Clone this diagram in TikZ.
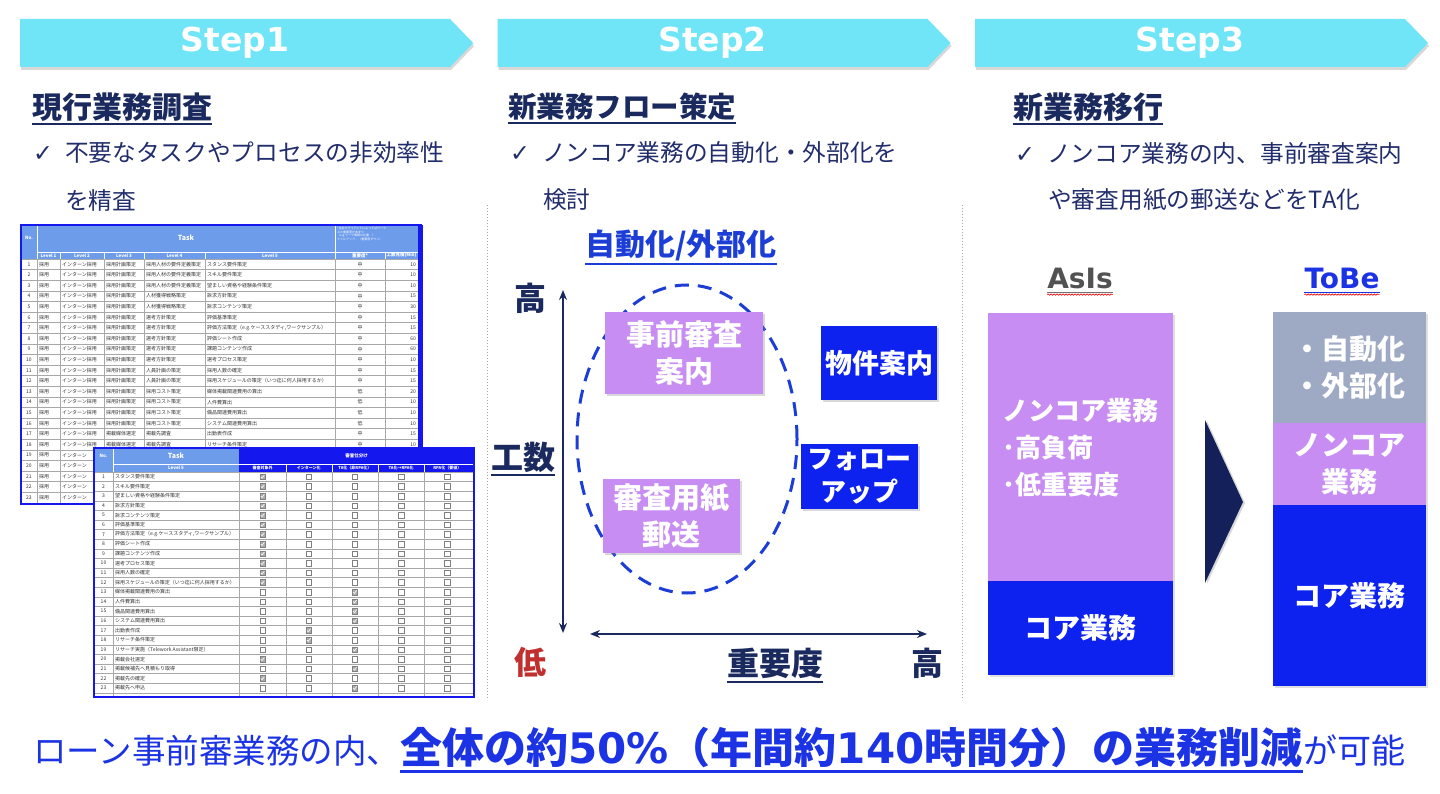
\documentclass[tikz,border=0pt]{standalone}
\usepackage{fontspec}
\setmainfont{Noto Sans CJK JP}
\newfontfamily\dejav{DejaVu Sans}
\usepackage{tikz}
\usetikzlibrary{arrows.meta,positioning,shapes.geometric,shapes.symbols,shadows,decorations.pathmorphing,calc}
\tikzset{>=Stealth}
\usepackage{xcolor}
\definecolor{bannercyan}{HTML}{70E5F8}
\definecolor{navy}{HTML}{1B2A5E}
\definecolor{checknavy}{HTML}{222E6C}
\definecolor{matrixblue}{HTML}{1C3ED6}
\definecolor{lilac}{HTML}{C78DF2}
\definecolor{coreblue}{HTML}{0D22EE}
\definecolor{greyblue}{HTML}{9EAAC4}
\definecolor{arrownavy}{HTML}{14205A}
\definecolor{lowred}{HTML}{C0302F}
\definecolor{resultblue}{HTML}{1B33E4}
\definecolor{headblue}{HTML}{6D9CEB}
\definecolor{sortblue}{HTML}{1418EE}
\definecolor{gridgrey}{HTML}{A8A8A8}

\begin{document}
\begin{tikzpicture}[x=1pt, y=-1pt,
    stepbanner/.style={signal, signal to=east, signal pointer angle=92, fill=bannercyan, minimum width=453pt, minimum height=48pt, inner sep=0pt, text=white, font=\dejav\bfseries\fontsize{33}{33}\selectfont, drop shadow={shadow xshift=1pt, shadow yshift=-3pt, opacity=.3}},
    heading/.style={anchor=west, inner sep=0pt, text=navy, font=\bfseries\fontsize{30}{30}\selectfont},
    checkline/.style={anchor=west, inner sep=0pt, text=checknavy, font=\fontsize{23.7}{23.7}\selectfont},
    tcell/.style={inner sep=0pt, font=\fontsize{5}{5}\selectfont, text=black!80},
    ttext/.style={tcell, anchor=west},
    thead/.style={inner sep=0pt, text=white, font=\bfseries\fontsize{4.5}{4.5}\selectfont},
    tgrid/.style={draw=gridgrey, line width=.4pt},
    cbox/.style={draw=gray, fill=white, minimum size=5.5pt, inner sep=0pt, line width=.4pt},
    cboxon/.style={cbox, fill=gray!65},
    axislabel/.style={inner sep=0pt, text=navy, font=\bfseries\fontsize{32}{32}\selectfont},
    axis/.style={{Stealth[length=10pt,width=8pt]}-{Stealth[length=10pt,width=8pt]}, draw=navy, line width=2.5pt},
    taskcard/.style={inner sep=0pt, align=center, text=white, font=\bfseries\fontsize{29}{37}\selectfont, drop shadow={shadow xshift=2pt, shadow yshift=-2pt, opacity=.3}},
    stackpart/.style={anchor=north west, inner sep=0pt, align=center, text=white, font=\bfseries\fontsize{28}{37}\selectfont, drop shadow={shadow xshift=2pt, shadow yshift=-2pt, opacity=.25}},
    divider/.style={draw=gray!70, line width=1pt, dotted},
]
\useasboundingbox (0,0) rectangle (1440,794);
\fill[white] (0,0) rectangle (1440,794);

% step banners
\node[stepbanner, anchor=west] (step1) at (20,43) {Step1};
\node[stepbanner, right=24pt of step1] (step2) {Step2};
\node[stepbanner, right=24pt of step2] (step3) {Step3};

% column dividers
\draw[divider] (487,205) -- (487,700);
\draw[divider] (962,205) -- (962,700);

% step 1 text
\node[heading] (head1) at (32,107) {現行業務調査};
\draw[navy, line width=2pt] ($(head1.south west)+(0,2)$) -- ($(head1.south east)+(0,2)$);
\node[checkline] (check1) at (33,153) {{\dejav ✓}\hspace{12pt}不要なタスクやプロセスの非効率性};
\node[checkline] (check1b) at (65,200) {を精査};

% step 2 text
\node[heading, font=\bfseries\fontsize{28.5}{28.5}\selectfont] (head2) at (508,107) {新業務フロー策定};
\draw[navy, line width=2pt] ($(head2.south west)+(0,2)$) -- ($(head2.south east)+(0,2)$);
\node[checkline] (check2) at (510,153) {{\dejav ✓}\hspace{12pt}ノンコア業務の自動化・外部化を};
\node[checkline] (check2b) at (543,200) {検討};

% step 3 text
\node[heading] (head3) at (1013,107) {新業務移行};
\draw[navy, line width=2pt] ($(head3.south west)+(0,2)$) -- ($(head3.south east)+(0,2)$);
\node[checkline] (check3) at (1015,153) {{\dejav ✓}\hspace{12pt}ノンコア業務の内、事前審査案内};
\node[checkline] (check3b) at (1048,200) {や審査用紙の郵送などをTA化};

% task table (Level 1-5)
\fill[headblue] (21,225) rectangle (418,259);
\draw[white, line width=.8pt] (37,225) -- (37,259) (335,225) -- (335,259) (37,252) -- (418,252);
\foreach \x in {60,104,144,205,385} \draw[white, line width=.8pt] (\x,252) -- (\x,259);
\node[thead] (t1no) at (29,238) {No.};
\node[thead, font=\bfseries\fontsize{7}{7}\selectfont] (t1task) at (186,238) {Task};
\node[thead, anchor=north west, align=left, font=\fontsize{3}{3.6}\selectfont] (t1note) at (337,227) {*当社クライアントによってはワーク\\スの重要度があまり\\（e.g.ワーク情報の比重…）\\ミドルアップ…（重要度ダウン）};
\foreach \x/\lab in {48.5/Level 1, 82/Level 2, 124/Level 3, 174.5/Level 4, 270/Level 5, 360/重要度*, 401.5/工数見積(Min)}
  \node[thead] (t1h-\x) at (\x,255.5) {\lab};
\foreach \i in {0,...,23} \draw[tgrid] (21,{259+\i*10.6}) -- (418,{259+\i*10.6});
\foreach \x in {37,60,104,144,205,335,385} \draw[tgrid] (\x,259) -- (\x,504);
\foreach \n/\lthree/\lfour/\lfive/\imp/\mins in {
 1/採用計画策定/採用人材の要件定義策定/スタンス要件策定/中/10,
 2/採用計画策定/採用人材の要件定義策定/スキル要件策定/中/10,
 3/採用計画策定/採用人材の要件定義策定/望ましい資格や経験条件策定/中/10,
 4/採用計画策定/人材獲得戦略策定/訴求方針策定/中/15,
 5/採用計画策定/人材獲得戦略策定/訴求コンテンツ策定/中/30,
 6/採用計画策定/選考方針策定/評価基準策定/中/15,
 7/採用計画策定/選考方針策定/{評価方法策定（e.g.ケーススタディ,ワークサンプル）}/中/15,
 8/採用計画策定/選考方針策定/評価シート作成/中/60,
 9/採用計画策定/選考方針策定/課題コンテンツ作成/中/60,
 10/採用計画策定/選考方針策定/選考プロセス策定/中/10,
 11/採用計画策定/人員計画の策定/採用人数の確定/中/15,
 12/採用計画策定/人員計画の策定/採用スケジュールの策定（いつ迄に何人採用するか）/中/15,
 13/採用計画策定/採用コスト策定/媒体掲載関連費用の算出/低/20,
 14/採用計画策定/採用コスト策定/人件費算出/低/10,
 15/採用計画策定/採用コスト策定/備品関連費用算出/低/10,
 16/採用計画策定/採用コスト策定/システム関連費用算出/低/10,
 17/掲載媒体選定/掲載先調査/出勤表作成/中/15,
 18/掲載媒体選定/掲載先調査/リサーチ条件策定/中/10}{
  \pgfmathsetmacro\yc{259+(\n-0.5)*10.6}
  \node[tcell] (t1r\n-no) at (29,\yc) {\n};
  \node[ttext] (t1r\n-a) at (39,\yc) {採用};
  \node[ttext] (t1r\n-b) at (62,\yc) {インターン採用};
  \node[ttext] (t1r\n-c) at (106,\yc) {\lthree};
  \node[ttext] (t1r\n-d) at (146,\yc) {\lfour};
  \node[ttext] (t1r\n-e) at (207,\yc) {\lfive};
  \node[tcell] (t1r\n-f) at (360,\yc) {\imp};
  \node[tcell, anchor=east] (t1r\n-g) at (416,\yc) {\mins};
}
% rows 19-23 are mostly hidden by the second table
\foreach \n in {19,...,23}{
  \pgfmathsetmacro\yc{259+(\n-0.5)*10.6}
  \node[tcell] (t1r\n-no) at (29,\yc) {\n};
  \node[ttext] (t1r\n-a) at (39,\yc) {採用};
  \node[ttext] (t1r\n-b) at (62,\yc) {インターン};
}
\draw[sortblue, line width=1.5pt] (21,225) rectangle (421,504);
\fill[sortblue] (418,225) rectangle (423,504);

% sorting table (checkboxes)
\fill[white] (94,448) rectangle (474,697);
\fill[headblue] (94,448) rectangle (239,472);
\fill[sortblue] (239,448) rectangle (474,472);
\draw[white, line width=.8pt] (113,448) -- (113,472) (113,464) -- (474,464);
\foreach \x in {286,332,378,424} \draw[white, line width=.8pt] (\x,464) -- (\x,472);
\node[thead] (t2no) at (103.5,456) {No.};
\node[thead, font=\bfseries\fontsize{7}{7}\selectfont] (t2task) at (176,456) {Task};
\node[thead] (t2level) at (176,468) {Level 5};
\node[thead] (t2sort) at (356.5,456) {審査仕分け};
\foreach \lab [count=\c] in {審査対象外, インターン化, TA化（非RPA化）, TA化→RPA化, RPA化（要値）}{
  \pgfmathsetmacro\xc{262.5+(\c-1)*46.2}
  \node[thead, font=\bfseries\fontsize{4}{4}\selectfont] (t2h\c) at (\xc,468) {\lab};
}
\foreach \i in {0,...,23} \draw[tgrid] (94,{472+\i*9.6}) -- (474,{472+\i*9.6});
\foreach \x in {113,239,286,332,378,424} \draw[tgrid] (\x,472) -- (\x,697);
\foreach \n/\lfive/\pick in {
 1/スタンス要件策定/1, 2/スキル要件策定/1, 3/望ましい資格や経験条件策定/1,
 4/訴求方針策定/1, 5/訴求コンテンツ策定/1, 6/評価基準策定/1,
 7/{評価方法策定（e.g.ケーススタディ,ワークサンプル）}/1, 8/評価シート作成/1,
 9/課題コンテンツ作成/1, 10/選考プロセス策定/1, 11/採用人数の確定/1,
 12/採用スケジュールの策定（いつ迄に何人採用するか）/1, 13/媒体掲載関連費用の算出/3,
 14/人件費算出/3, 15/備品関連費用算出/3, 16/システム関連費用算出/3,
 17/出勤表作成/2, 18/リサーチ条件策定/2, 19/{リサーチ実施（Telework Assistant限定）}/3,
 20/掲載会社選定/1, 21/掲載候補先へ見積もり取得/3, 22/掲載先の確定/1, 23/掲載先へ申込/3}{
  \pgfmathsetmacro\yc{472+(\n-0.5)*9.6}
  \node[tcell] (t2r\n-no) at (103.5,\yc) {\n};
  \node[ttext] (t2r\n-e) at (115,\yc) {\lfive};
  \foreach \c in {1,...,5}{
    \pgfmathsetmacro\xc{262.5+(\c-1)*46.2}
    \ifnum\c=\pick\relax
      \node[cboxon] (t2r\n-box\c) at (\xc,\yc) {};
      \draw[white, line width=.6pt] ({\xc-1.8},{\yc}) -- ({\xc-0.5},{\yc+1.4}) -- ({\xc+1.9},{\yc-1.7});
    \else
      \node[cbox] (t2r\n-box\c) at (\xc,\yc) {};
    \fi
  }
}
\draw[sortblue, line width=1.5pt] (94,448) rectangle (474,697);

% step 2 matrix
\node[inner sep=0pt, text=matrixblue, font=\bfseries\fontsize{30}{30}\selectfont] (mtitle) at (681,245) {自動化/外部化};
\draw[matrixblue, line width=2pt] ($(mtitle.south west)+(0,3)$) -- ($(mtitle.south east)+(0,3)$);
\coordinate (ytop) at (563,290);
\coordinate (ybot) at (563,633);
\coordinate (xleft) at (590,634);
\coordinate (xright) at (927,634);
\draw[axis] (ytop) -- (ybot);
\draw[axis] (xleft) -- (xright);
\node[axislabel] (yhigh) at (530,298) {高};
\node[axislabel] (ylabel) at (523,457) {工数};
\draw[navy, line width=2pt] ($(ylabel.south west)+(0,3)$) -- ($(ylabel.south east)+(0,3)$);
\node[axislabel, text=lowred] (low) at (530,662) {低};
\node[axislabel] (xlabel) at (775,663) {重要度};
\draw[navy, line width=2pt] ($(xlabel.south west)+(0,3)$) -- ($(xlabel.south east)+(0,3)$);
\node[axislabel] (xhigh) at (927,663) {高};
\node[ellipse, draw=matrixblue, line width=3pt, dash pattern=on 14pt off 9pt, minimum width=220pt, minimum height=308pt, inner sep=0pt] (focus) at (687,439) {};
\node[taskcard, fill=lilac, minimum width=158pt, minimum height=82pt] (guide) at (684,353) {事前審査\\案内};
\node[taskcard, fill=lilac, minimum width=137pt, minimum height=74pt] (mail) at (671.5,516) {審査用紙\\郵送};
\node[taskcard, fill=coreblue, minimum width=116pt, minimum height=74pt, font=\bfseries\fontsize{27}{35}\selectfont] (property) at (879,363) {物件案内};
\node[taskcard, fill=coreblue, minimum width=117pt, minimum height=65pt, font=\bfseries\fontsize{26}{33}\selectfont] (follow) at (859.5,476.5) {フォロー\\アップ};

% step 3 as-is / to-be
\node[inner sep=0pt, text=black!68, font=\dejav\bfseries\fontsize{28}{28}\selectfont] (asis) at (1080,278) {AsIs};
\draw[black!55, line width=1.5pt] ($(asis.south west)+(0,4)$) -- ($(asis.south east)+(0,4)$);
\draw[red, line width=.6pt, decorate, decoration={snake, amplitude=.7pt, segment length=3pt}] ($(asis.south west)+(0,6)$) -- ($(asis.south east)+(0,6)$);
\node[inner sep=0pt, text=resultblue, font=\dejav\bfseries\fontsize{28}{28}\selectfont] (tobe) at (1342,278) {ToBe};
\draw[resultblue, line width=1.5pt] ($(tobe.south west)+(0,4)$) -- ($(tobe.south east)+(0,4)$);
\draw[red, line width=.6pt, decorate, decoration={snake, amplitude=.7pt, segment length=3pt}] ($(tobe.south west)+(0,6)$) -- ($(tobe.south east)+(0,6)$);

\node[stackpart, fill=lilac, minimum width=185pt, minimum height=268pt] (asnoncore) at (988,313) {};
\node[inner sep=0pt, align=left, text=white, font=\bfseries\fontsize{26}{37}\selectfont] (asnoncoretext) at (asnoncore.center) {ノンコア業務\\･高負荷\\･低重要度};
\node[stackpart, fill=coreblue, minimum width=185pt, minimum height=94pt] (ascore) at (988,581) {コア業務};

\fill[arrownavy, drop shadow={shadow xshift=2pt, shadow yshift=-1pt, opacity=.3}] (1205,420) -- (1243,502) -- (1205,583) -- cycle;

\node[stackpart, fill=greyblue, minimum width=153pt, minimum height=111pt] (toauto) at (1273,312) {・自動化\\・外部化};
\node[stackpart, fill=lilac, minimum width=153pt, minimum height=82pt] (tononcore) at (1273,423) {ノンコア\\業務};
\node[stackpart, fill=coreblue, minimum width=153pt, minimum height=181pt] (tocore) at (1273,505) {コア業務};

% result line
\node[anchor=base west, inner sep=0pt, text=resultblue, font=\fontsize{33.5}{33.5}\selectfont] (res1) at (33,763) {ローン事前審業務の内、};
\node[anchor=base west, inner sep=0pt, text=resultblue, font=\bfseries\fontsize{42}{42}\selectfont] (res2) at (res1.base east) {全体の約{\dejav 50\%}（年間約{\dejav 140}時間分）の業務削減};
\node[anchor=base west, inner sep=0pt, text=resultblue, font=\fontsize{34}{34}\selectfont] (res3) at (res2.base east) {が可能};
\draw[resultblue, line width=3pt] ($(res2.base west)+(0,8)$) -- ($(res2.base east)+(0,8)$);
\end{tikzpicture}
\end{document}
